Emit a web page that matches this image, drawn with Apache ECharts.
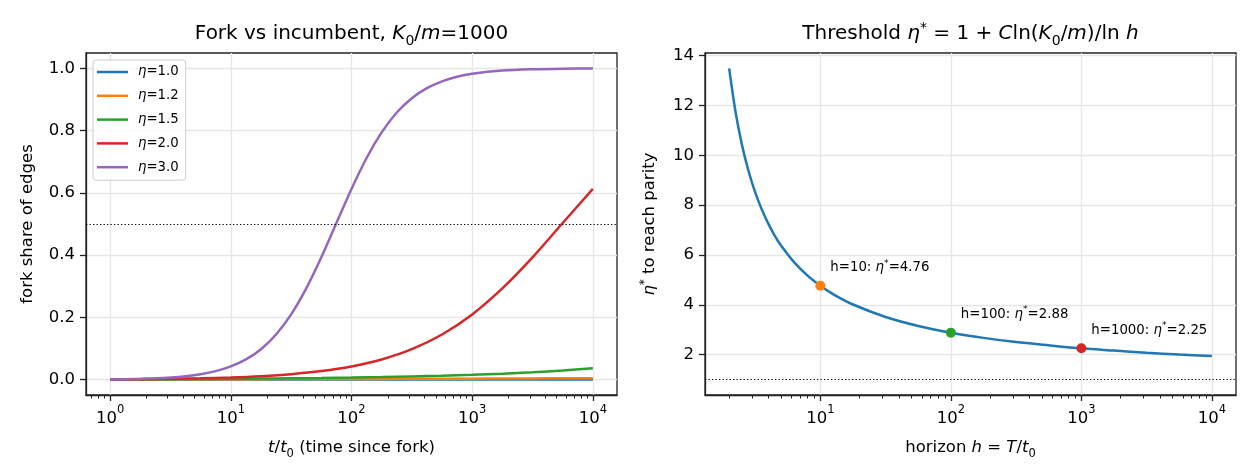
<!DOCTYPE html>
<html><head><meta charset="utf-8">
<script src="https://cdn.jsdelivr.net/npm/echarts@6/dist/echarts.min.js"></script>
<style>html,body{margin:0;padding:0;background:#fff}#c{width:1260px;height:476px}</style>
</head><body><div id="c"></div>
<script>
// ---------- data ----------
const etaLabels = ['1.0', '1.2', '1.5', '2.0', '3.0'];
const tValues = [1, 1.778, 3.162, 5.623, 10, 17.78, 31.62, 56.23, 100, 177.8, 316.2, 562.3, 1000, 1778, 3162, 5623, 10000];
const shareEta10 = [0.001, 0.001, 0.001, 0.001, 0.001, 0.001, 0.001, 0.001, 0.001, 0.001, 0.001, 0.001, 0.001, 0.001, 0.001, 0.001, 0.001];
const shareEta12 = [0.00125, 0.00137, 0.00149, 0.00163, 0.00177, 0.00193, 0.00211, 0.0023, 0.0025, 0.00273, 0.00298, 0.00325, 0.00353, 0.00385, 0.0042, 0.00457, 0.00498];
const shareEta15 = [0.00125, 0.00155, 0.00192, 0.00237, 0.00294, 0.00363, 0.00449, 0.00555, 0.00685, 0.00847, 0.01046, 0.0129, 0.0159, 0.0196, 0.0242, 0.0297, 0.0365];
const shareEta20 = [0.00125, 0.00196, 0.00306, 0.00476, 0.00743, 0.01156, 0.0179, 0.0277, 0.0427, 0.0652, 0.0981, 0.1453, 0.2098, 0.2933, 0.393, 0.5032, 0.6126];
const tValuesFine = [1, 1.334, 1.778, 2.371, 3.162, 4.217, 5.623, 7.499, 10, 13.34, 17.78, 23.71, 31.62, 42.17, 56.23, 74.99, 100, 133.4, 177.8, 237.1, 316.2, 421.7, 562.3, 749.9, 1000, 1778, 3162, 5623, 10000];
const shareEta30 = [0.00125, 0.00196, 0.00306, 0.00476, 0.00743, 0.01156, 0.0179, 0.0277, 0.0427, 0.0652, 0.0981, 0.1452, 0.2098, 0.2933, 0.393, 0.503, 0.6126, 0.712, 0.794, 0.858, 0.904, 0.936, 0.958, 0.973, 0.9825, 0.9928, 0.997, 0.9988, 0.9995];
const parityShare = 0.5;

const hValues = [2, 2.239, 2.512, 2.818, 3.162, 3.548, 3.981, 4.467, 5.012, 6.31, 7.943, 10, 12.59, 17.78, 31.62, 56.23, 100, 177.8, 316.2, 562.3, 1000, 1778, 3162, 5623, 10000];
const etaStar = [13.49, 11.74, 10.40, 9.36, 8.52, 7.84, 7.27, 6.78, 6.37, 5.70, 5.18, 4.76, 4.42, 4.01, 3.51, 3.15, 2.88, 2.67, 2.50, 2.37, 2.25, 2.16, 2.07, 2.00, 1.94];
const markH = [10, 100, 1000];
const markEta = [4.76, 2.88, 2.25];
const etaFloor = 1;

const xTicksLeft = [1, 10, 100, 1000, 10000];
const xTicksRight = [10, 100, 1000, 10000];
const xMinorLeft = [0.7, 0.8, 0.9, 2, 3, 4, 5, 6, 7, 8, 9, 20, 30, 40, 50, 60, 70, 80, 90, 200, 300, 400, 500, 600, 700, 800, 900, 2000, 3000, 4000, 5000, 6000, 7000, 8000, 9000];
const xMinorRight = [2, 3, 4, 5, 6, 7, 8, 9, 20, 30, 40, 50, 60, 70, 80, 90, 200, 300, 400, 500, 600, 700, 800, 900, 2000, 3000, 4000, 5000, 6000, 7000, 8000, 9000];
const yTicksLeft = [0, 0.2, 0.4, 0.6, 0.8, 1.0];
const yTicksRight = [2, 4, 6, 8, 10, 12, 14];

// ---------- style ----------
const C = ['#1f77b4', '#ff7f0e', '#2ca02c', '#d62728', '#9467bd'];
const FF = 'DejaVu Sans';
const INK = '#000';
function rich(size, lh) {
  const s = Math.round(size * 0.7 * 10) / 10;
  return {
    i: {fontFamily: FF, fontSize: size, fontStyle: 'italic', color: INK, lineHeight: lh},
    n: {fontFamily: FF, fontSize: size, color: INK, lineHeight: lh},
    sup: {fontFamily: FF, fontSize: s, color: INK, verticalAlign: 'top', height: size * 0.38},
    star: {fontFamily: FF, fontSize: s, color: INK, verticalAlign: 'top', height: size * 0.8},
    sub: {fontFamily: FF, fontSize: s, color: INK, verticalAlign: 'bottom'}
  };
}
const TICK = 16.5, SMALL = 13.3, TITLE = 20;
function logLabel(v) {
  const e = Math.round(Math.log10(v));
  return '{n|10}{sup|' + e + '}';
}
const gridLine = {show: true, lineStyle: {color: '#e6e6e6', width: 1.3}};
const spine = {show: true, onZero: false, lineStyle: {color: '#222', width: 1.3}};

function mainX(gi, min, max, ticks, name) {
  return {
    type: 'log', logBase: 10, gridIndex: gi, min: min, max: max, position: 'bottom',
    axisLine: spine,
    axisTick: {show: true, length: 6, lineStyle: {color: '#222', width: 1.3}, customValues: ticks},
    axisLabel: {show: true, margin: 12, customValues: ticks, formatter: logLabel,
      fontFamily: FF, fontSize: TICK, color: INK, lineHeight: 24, rich: rich(TICK, 24)},
    splitLine: gridLine, minorTick: {show: false},
    name: name, nameLocation: 'middle', nameGap: 37,
    nameTextStyle: {fontFamily: FF, fontSize: TICK, color: INK, lineHeight: 24, rich: rich(TICK, 24)}
  };
}
function minorX(gi, min, max, ticks) {
  return {
    type: 'log', logBase: 10, gridIndex: gi, min: min, max: max, position: 'bottom',
    axisLine: {show: true, onZero: false, lineStyle: {color: 'rgba(0,0,0,0)', width: 1}},
    axisTick: {show: true, length: 3.5, lineStyle: {color: '#222', width: 1}, customValues: ticks},
    axisLabel: {show: false}, splitLine: {show: false}
  };
}
function mainY(gi, min, max, ticks, fmt, name, gap) {
  return {
    type: 'value', gridIndex: gi, min: min, max: max,
    axisLine: spine,
    axisTick: {show: true, length: 6, lineStyle: {color: '#222', width: 1.3}, customValues: ticks},
    axisLabel: {show: true, margin: 11, customValues: ticks, formatter: fmt,
      fontFamily: FF, fontSize: TICK, color: INK},
    splitLine: gridLine,
    name: name, nameLocation: 'middle', nameGap: gap, nameRotate: 90,
    nameTextStyle: {fontFamily: FF, fontSize: TICK, color: INK, lineHeight: 24, rich: rich(TICK, 24)}
  };
}
function hiddenY(gi) {
  return {type: 'value', gridIndex: gi, min: 0, max: 1, show: false};
}
const dotted = {color: '#000', width: 1.1, type: [1.3, 2.2]};

const leftSets = [
  [tValues, shareEta10], [tValues, shareEta12], [tValues, shareEta15],
  [tValues, shareEta20], [tValuesFine, shareEta30]
];
const leftSeries = leftSets.map(function (set, k) {
  const s = {
    type: 'line', name: 'η=' + etaLabels[k], xAxisIndex: 0, yAxisIndex: 0,
    data: set[0].map(function (t, j) { return [t, set[1][j]]; }),
    showSymbol: false, symbol: 'none', smooth: 0.3,
    lineStyle: {color: C[k], width: 2.5}, itemStyle: {color: C[k]}, z: 3 + k
  };
  if (k === 0) {
    s.markLine = {silent: true, symbol: 'none', label: {show: false}, lineStyle: dotted,
      data: [{yAxis: parityShare}], z: 10};
  }
  return s;
});

const gridBox = {top: 53, width: 531, height: 342};
const option = {
  animation: false,
  backgroundColor: '#fff',
  textStyle: {fontFamily: FF},
  title: [
    {text: 'Fork vs incumbent, {i|K}{sub|0}{n|/}{i|m}{n|=1000}', left: 351.5, top: 20, textAlign: 'center', padding: 0,
      textStyle: {fontFamily: FF, fontSize: TITLE, fontWeight: 'normal', color: INK, lineHeight: 28, rich: rich(TITLE, 28)}},
    {text: 'Threshold {i|η}{star|*}{n| = 1 + }{i|C}{n|ln(}{i|K}{sub|0}{n|/}{i|m}{n|)/ln }{i|h}', left: 970.5, top: 20, textAlign: 'center', padding: 0,
      textStyle: {fontFamily: FF, fontSize: TITLE, fontWeight: 'normal', color: INK, lineHeight: 28, rich: rich(TITLE, 28)}}
  ],
  legend: {
    left: 93, top: 60, orient: 'vertical', padding: [4, 7, 5, 4],
    itemWidth: 31, itemHeight: 2.5, itemGap: 7.8, icon: 'rect',
    backgroundColor: 'rgba(255,255,255,0.8)', borderColor: '#cccccc', borderWidth: 1, borderRadius: 3,
    data: etaLabels.map(function (e) { return 'η=' + e; }),
    formatter: function (name) { return '{i|η}{n|' + name.slice(1) + '}'; },
    textStyle: {fontFamily: FF, fontSize: SMALL, color: INK, lineHeight: 16, padding: [0, 0, 0, 5], rich: rich(SMALL, 16)}
  },
  grid: [
    Object.assign({left: 86, show: true, borderColor: '#222', borderWidth: 1.3, backgroundColor: 'transparent'}, gridBox),
    Object.assign({left: 705, show: true, borderColor: '#222', borderWidth: 1.3, backgroundColor: 'transparent'}, gridBox),
    Object.assign({left: 86, show: false}, gridBox),
    Object.assign({left: 705, show: false}, gridBox)
  ],
  xAxis: [
    mainX(0, 0.631, 15849, xTicksLeft, '{i|t}{n|/}{i|t}{sub|0}{n| (time since fork)}'),
    mainX(1, 1.306, 15311, xTicksRight, '{n|horizon }{i|h}{n| = }{i|T}{n|/}{i|t}{sub|0}'),
    minorX(2, 0.631, 15849, xMinorLeft),
    minorX(3, 1.306, 15311, xMinorRight)
  ],
  yAxis: [
    mainY(0, -0.049, 1.049, yTicksLeft, function (v) { return v.toFixed(1); }, '{n|fork share of edges}', 46),
    mainY(1, 0.376, 14.11, yTicksRight, function (v) { return String(Math.round(v)); }, '{i|η}{star|*}{n| to reach parity}', 43),
    hiddenY(2), hiddenY(3)
  ],
  series: leftSeries.concat([
    {
      type: 'line', name: 'threshold', xAxisIndex: 1, yAxisIndex: 1,
      data: hValues.map(function (h, j) { return [h, etaStar[j]]; }),
      showSymbol: false, symbol: 'none', smooth: 0.3,
      lineStyle: {color: C[0], width: 2.5}, itemStyle: {color: C[0]}, z: 3,
      markLine: {silent: true, symbol: 'none', label: {show: false}, lineStyle: dotted,
        data: [{yAxis: etaFloor}], z: 10}
    },
    {
      type: 'scatter', name: 'marks', xAxisIndex: 1, yAxisIndex: 1, symbolSize: 10, z: 6,
      data: markH.map(function (h, j) {
        return {value: [h, markEta[j]], itemStyle: {color: C[j + 1], opacity: 1}};
      }),
      itemStyle: {opacity: 1},
      label: {
        show: true, position: 'right', distance: 5, offset: [0, -18],
        formatter: function (p) {
          return '{n|h=' + p.value[0] + ': }{i|η}{star|*}{n|=' + p.value[1].toFixed(2) + '}';
        },
        fontFamily: FF, fontSize: SMALL, color: INK, lineHeight: 20, rich: rich(SMALL, 20)
      }
    }
  ])
};
const chart = echarts.init(document.getElementById('c'), null, {renderer: 'canvas'});
chart.setOption(option);
</script>
</body></html>
